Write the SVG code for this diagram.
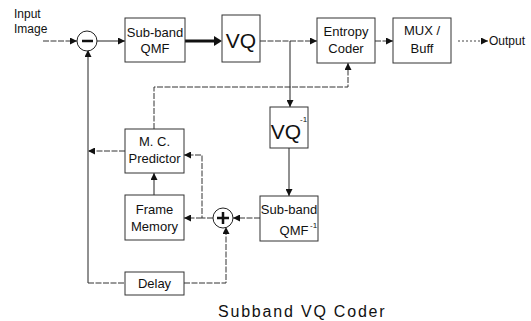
<svg xmlns="http://www.w3.org/2000/svg" width="531" height="321" viewBox="0 0 531 321">
<defs>
<marker id="ah" viewBox="0 0 10 10" refX="10" refY="5" markerWidth="7" markerHeight="7" markerUnits="userSpaceOnUse" orient="auto">
<path d="M0,0 L10,5 L0,10 z" fill="#111"/>
</marker>
</defs>
<style>
.box{fill:#fff;stroke:#333;stroke-width:1}
.ln{fill:none;stroke:#222;stroke-width:1}
.dl{fill:none;stroke:#333;stroke-width:1;stroke-dasharray:6,1.5}
.th{fill:none;stroke:#111;stroke-width:3}
.dot{fill:none;stroke:#444;stroke-width:1;stroke-dasharray:2,2}
.t{font-family:"Liberation Sans",Arial,sans-serif;font-size:13px;fill:#111;text-anchor:middle}
.s{font-family:"Liberation Sans",Arial,sans-serif;font-size:12px;fill:#111}
.big{font-family:"Liberation Sans",Arial,sans-serif;font-size:21px;fill:#111;text-anchor:middle}
.sup{font-family:"Liberation Sans",Arial,sans-serif;font-size:8px;fill:#111}
</style>
<rect width="531" height="321" fill="#fff"/>
<g id="connectors">
<path class="dl" d="M43,41 H77" marker-end="url(#ah)"/>
<path class="ln" d="M97,41 H125" marker-end="url(#ah)"/>
<path class="th" d="M185,41 H215"/>
<path d="M214,36 L222,41 L214,46 z" fill="#111"/>
<path class="dl" d="M260,41 H317" marker-end="url(#ah)"/>
<path class="ln" d="M290,41 V107" marker-end="url(#ah)"/>
<path class="dl" d="M375,41 H393" marker-end="url(#ah)"/>
<path class="dot" d="M458,41 H488" marker-end="url(#ah)"/>
<path class="dl" d="M154,129 V87 H348 V63" marker-end="url(#ah)"/>
<path class="ln" d="M289,148 V196" marker-end="url(#ah)"/>
<path class="dl" d="M260,218 H233" marker-end="url(#ah)"/>
<path class="dl" d="M213,218 H202 V155 H184" marker-end="url(#ah)"/>
<path class="dl" d="M202,218 H184" marker-end="url(#ah)"/>
<path class="ln" d="M154,195 V173" marker-end="url(#ah)"/>
<path class="dl" d="M125,151 H88" marker-end="url(#ah)"/>
<path class="ln" d="M88,283 V50" marker-end="url(#ah)"/>
<path class="dl" d="M88,283 H125"/>
<path class="dl" d="M184,283 H226 V227" marker-end="url(#ah)"/>
</g>
<g id="input-label">
<text class="s" x="14" y="18">Input</text>
<text class="s" x="14" y="33">Image</text>
</g>
<g id="subtract">
<circle cx="87" cy="41" r="10" fill="#fff" stroke="#222" stroke-width="1"/>
<path d="M82,41 H93" stroke="#111" stroke-width="2.5"/>
</g>
<g id="subband-qmf">
<rect class="box" x="125" y="18" width="60" height="44"/>
<text class="t" x="155" y="37">Sub-band</text>
<text class="t" x="155" y="53">QMF</text>
</g>
<g id="vq">
<rect class="box" x="222" y="15" width="38" height="47"/>
<text class="big" x="241" y="48">VQ</text>
</g>
<g id="entropy-coder">
<rect class="box" x="317" y="18" width="58" height="45"/>
<text class="t" x="346" y="36">Entropy</text>
<text class="t" x="346" y="53">Coder</text>
</g>
<g id="mux-buff">
<rect class="box" x="393" y="18" width="58" height="45"/>
<text class="t" x="422" y="35">MUX /</text>
<text class="t" x="422" y="53">Buff</text>
</g>
<g id="output-label">
<text class="s" x="489" y="45">Output</text>
</g>
<g id="vq-inverse">
<rect class="box" x="270" y="107" width="38" height="41"/>
<text class="big" x="286" y="139">VQ</text>
<text class="sup" x="300" y="122">-1</text>
</g>
<g id="subband-qmf-inverse">
<rect class="box" x="260" y="196" width="58" height="45"/>
<text class="t" x="289" y="214">Sub-band</text>
<text class="t" x="294" y="235">QMF</text>
<text class="sup" x="310" y="228">-1</text>
</g>
<g id="add">
<circle cx="223" cy="218" r="10" fill="#fff" stroke="#222" stroke-width="1"/>
<path d="M217,218 H229 M223,212 V224" stroke="#111" stroke-width="2.5"/>
</g>
<g id="mc-predictor">
<rect class="box" x="125" y="129" width="59" height="44"/>
<text class="t" x="154.5" y="146">M. C.</text>
<text class="t" x="154.5" y="163">Predictor</text>
</g>
<g id="frame-memory">
<rect class="box" x="125" y="195" width="59" height="45"/>
<text class="t" x="154.5" y="214">Frame</text>
<text class="t" x="154.5" y="231">Memory</text>
</g>
<g id="delay">
<rect class="box" x="125" y="272" width="59" height="23"/>
<text class="t" x="154.5" y="288">Delay</text>
</g>
<g id="caption">
<text x="218" y="317" font-family="Liberation Sans,Arial,sans-serif" font-size="16" letter-spacing="1.8" fill="#111">Subband VQ Coder</text>
</g>
</svg>
